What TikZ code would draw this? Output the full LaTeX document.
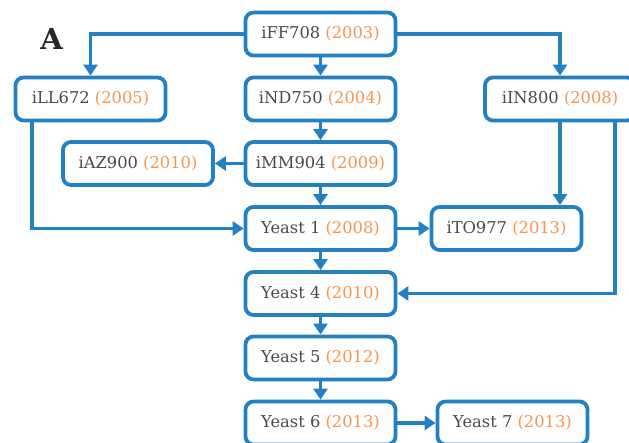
\documentclass[tikz,border=0pt]{standalone}
\usepackage{fontspec}
\setmainfont{DejaVu Serif}
\usetikzlibrary{arrows.meta}
\definecolor{flowblue}{HTML}{2280C3}
\definecolor{yearorange}{HTML}{F39650}
\definecolor{labelgray}{HTML}{4A4A4A}
\tikzset{
  model/.style={draw=flowblue, line width=3.8pt, rounded corners=8pt,
    minimum width=150pt, minimum height=43pt, inner sep=0pt,
    text=labelgray, font=\fontsize{16.3}{19}\selectfont, fill=white},
  link/.style={draw=flowblue, line width=3.8pt,
    -{Triangle[length=11pt,width=14pt]}},
}
\newcommand{\yr}[1]{\textcolor{yearorange}{(#1)}}
\begin{document}
\begin{tikzpicture}[x=1pt,y=-1pt]
  \useasboundingbox (0,0) rectangle (629,443);
  \fill[white] (0,0) rectangle (629,443);

  \node[font=\fontsize{29}{31}\selectfont\bfseries, text=black!85] (panel) at (51.5,38.5) {A};

  % model boxes
  \node[model] (ff)  at (320.5,34)   {iFF708 \yr{2003}};
  \node[model] (nd)  at (320.5,99)   {iND750 \yr{2004}};
  \node[model] (ll)  at (90.5,99)    {iLL672 \yr{2005}};
  \node[model] (in)  at (560,99)     {iIN800 \yr{2008}};
  \node[model] (az)  at (138,163.5)  {iAZ900 \yr{2010}};
  \node[model] (mm)  at (320.5,163.5){iMM904 \yr{2009}};
  \node[model] (y1)  at (320.5,228.5){Yeast 1 \yr{2008}};
  \node[model] (to)  at (506.5,228.5){iTO977 \yr{2013}};
  \node[model] (y4)  at (320.5,293.5){Yeast 4 \yr{2010}};
  \node[model] (y5)  at (320.5,358)  {Yeast 5 \yr{2012}};
  \node[model] (y6)  at (320.5,423)  {Yeast 6 \yr{2013}};
  \node[model] (y7)  at (512.5,423)  {Yeast 7 \yr{2013}};

  % lineage connectors
  \draw[link] (ff.west) -| (ll.north);
  \draw[link] (ff.east) -| (in.north);
  \draw[link] (ff) -- (nd);
  \draw[link] (nd) -- (mm);
  \draw[link] (mm) -- (az);
  \draw[link] (mm) -- (y1);
  \draw[link] ([xshift=-58.5pt]ll.south) |- (y1.west);
  \draw[link] (in.south) -- (in.south |- to.north);
  \draw[link] ([xshift=55pt]in.south) |- (y4.east);
  \draw[link] (y1) -- (to);
  \draw[link] (y1) -- (y4);
  \draw[link] (y4) -- (y5);
  \draw[link] (y5) -- (y6);
  \draw[link] (y6) -- (y7);
\end{tikzpicture}
\end{document}
